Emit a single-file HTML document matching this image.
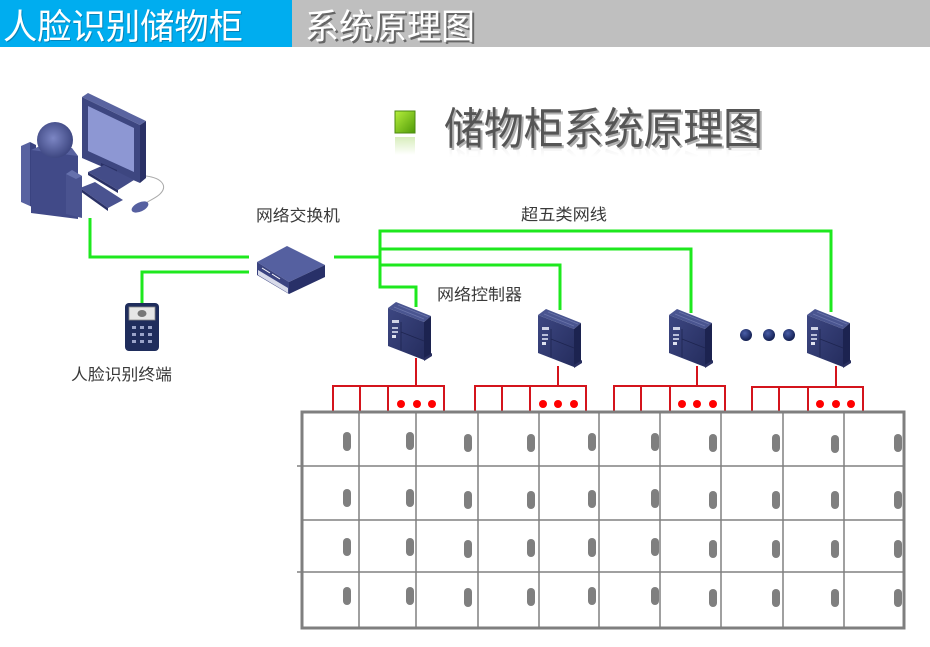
<!DOCTYPE html>
<html><head><meta charset="utf-8"><style>
html,body{margin:0;padding:0;background:#fff;}
svg{display:block;}
text{font-family:"Liberation Sans","Noto Sans CJK SC",sans-serif;}
</style></head><body>
<svg width="930" height="647" viewBox="0 0 930 647" xmlns="http://www.w3.org/2000/svg">
<defs>
<linearGradient id="refl" x1="0" y1="0" x2="0" y2="1">
<stop offset="0" stop-color="#999" stop-opacity="0"/>
<stop offset="0.65" stop-color="#999" stop-opacity="0"/>
<stop offset="1" stop-color="#999" stop-opacity="0.22"/>
</linearGradient>
<linearGradient id="gsq" x1="0" y1="0" x2="1" y2="1">
<stop offset="0" stop-color="#b6ef3c"/><stop offset="1" stop-color="#4f9a08"/>
</linearGradient>
<linearGradient id="gsqr" x1="0" y1="0" x2="0" y2="1">
<stop offset="0" stop-color="#7cc520" stop-opacity="0.3"/><stop offset="1" stop-color="#7cc520" stop-opacity="0"/>
</linearGradient>
<radialGradient id="head" cx="0.45" cy="0.45" r="0.6">
<stop offset="0" stop-color="#7c86c4"/><stop offset="1" stop-color="#39427c"/>
</radialGradient>
<radialGradient id="ball" cx="0.4" cy="0.35" r="0.7">
<stop offset="0" stop-color="#4a5ea8"/><stop offset="1" stop-color="#0e1a4a"/>
</radialGradient>
<linearGradient id="ctrlf" x1="0" y1="0" x2="1" y2="1">
<stop offset="0" stop-color="#3d4782"/><stop offset="1" stop-color="#252d5e"/>
</linearGradient>
<g id="ctrl">
<polygon points="0,8 8,2 43,16 36,22" fill="#4a5590"/>
<polygon points="0,8 36,22 36,60 0,46" fill="url(#ctrlf)"/>
<polygon points="36,22 43,16 43,54 36,60" fill="#1c2350"/>
<line x1="10" y1="5" x2="40" y2="17" stroke="#6a74aa" stroke-width="0.8"/>
<line x1="6" y1="7" x2="36" y2="19" stroke="#6a74aa" stroke-width="0.8"/>
<rect x="4" y="20" width="7" height="3" fill="#cfd3e6"/>
<rect x="4" y="27" width="6" height="2" fill="#b9bfd9"/>
<rect x="4" y="31" width="6" height="2" fill="#b9bfd9"/>
<rect x="4" y="35" width="4" height="3" fill="#dfe2ef"/>
<line x1="13" y1="22" x2="13" y2="50" stroke="#1e2550" stroke-width="0.8"/>
<line x1="13" y1="32" x2="36" y2="41" stroke="#1e2550" stroke-width="0.8"/>
<polygon points="36,58 44,53 44,56 36,61" fill="#2a3060"/>
</g>
</defs>

<!-- header -->
<rect x="0" y="0" width="292" height="47" fill="#00adef"/>
<rect x="292" y="0" width="638" height="47" fill="#bfbfbf"/>
<text x="4" y="40" font-size="35" fill="#0a6a96" textLength="240" lengthAdjust="spacingAndGlyphs" opacity="0.6">人脸识别储物柜</text>
<text x="3" y="39" font-size="35" fill="#ffffff" textLength="240" lengthAdjust="spacingAndGlyphs">人脸识别储物柜</text>
<text x="307" y="41" font-size="35" fill="#666" textLength="170" lengthAdjust="spacingAndGlyphs">系统原理图</text>
<text x="305" y="39" font-size="35" fill="#ffffff" textLength="170" lengthAdjust="spacingAndGlyphs">系统原理图</text>

<!-- title -->
<rect x="395" y="111" width="20" height="22" fill="url(#gsq)" stroke="#4c8a10" stroke-width="1"/>
<rect x="395" y="137" width="20" height="18" fill="url(#gsqr)"/>
<text x="446" y="146" font-size="44" fill="#b0b0b0" textLength="319" lengthAdjust="spacingAndGlyphs">储物柜系统原理图</text>
<text x="444" y="144" font-size="44" fill="#555555" textLength="319" lengthAdjust="spacingAndGlyphs">储物柜系统原理图</text>
<g transform="translate(0,294) scale(1,-1)">
<text x="444" y="144" font-size="44" fill="url(#refl)" textLength="319" lengthAdjust="spacingAndGlyphs">储物柜系统原理图</text>
</g>

<!-- green network lines -->
<g fill="none" stroke="#1ee81e" stroke-width="3">
<polyline points="90,218 90,257 249,257"/>
<polyline points="142,303 142,272 249,272"/>
<line x1="334" y1="257" x2="380" y2="257"/>
<polyline points="831,312 831,231 380,231 380,287 416,287 416,307"/>
<polyline points="380,249 691,249 691,313"/>
<polyline points="380,265 560,265 560,310"/>
</g>

<!-- PC -->
<g>
<polygon points="82,97 88,93 146,121 140,125" fill="#5a64a0"/>
<polygon points="82,97 140,125 140,183 82,158" fill="#3d4680"/>
<polygon points="88,106 134,128 134,172 88,151" fill="#8d97d3"/>
<polygon points="140,125 146,121 146,178 140,183" fill="#2a3166"/>
<polygon points="101,163 117,170 117,182 101,176" fill="#2a3166"/>
<polygon points="88,172 104,165 134,180 118,190" fill="#434c88"/>
<polygon points="88,172 118,190 118,193 88,175" fill="#2a3166"/>
<path d="M146,176 C162,178 168,186 160,194 C156,198 150,200 146,203" fill="none" stroke="#aaa" stroke-width="1"/>
<ellipse cx="140" cy="207" rx="9" ry="4.5" transform="rotate(-25 140 207)" fill="#5660a0"/>
<polygon points="80,188 95,182 123,200 108,208" fill="#4a5390"/>
<polygon points="80,188 108,208 108,211 80,191" fill="#2a3166"/>
<polygon points="21,146 30,142 30,206 21,202" fill="#5862a0"/>
<polygon points="30,142 36,145 36,209 30,206" fill="#3a4380"/>
<polygon points="31,150 68,150 78,156 78,219 31,213" fill="#414a88"/>
<polygon points="31,150 40,146 72,148 78,156" fill="#5862a0"/>
<polygon points="66,174 72,170 82,176 82,218 66,214" fill="#4a5390"/>
<polygon points="72,170 82,176 76,179 66,174" fill="#6570ac"/>
<circle cx="55" cy="140" r="18" fill="url(#head)"/>
</g>

<!-- face terminal -->
<g>
<rect x="125" y="303" width="34" height="48" rx="4" fill="#1f2d5c"/>
<rect x="129" y="307" width="26" height="13" fill="#e6e6e6" stroke="#8a8a8a" stroke-width="0.8"/>
<ellipse cx="142" cy="313.5" rx="4.5" ry="3.5" fill="#777"/>
<g fill="#9aa4c8">
<rect x="132" y="326" width="4" height="3"/><rect x="140" y="326" width="4" height="3"/><rect x="148" y="326" width="4" height="3"/>
<rect x="132" y="333" width="4" height="3"/><rect x="140" y="333" width="4" height="3"/><rect x="148" y="333" width="4" height="3"/>
<rect x="132" y="340" width="4" height="3"/><rect x="140" y="340" width="4" height="3"/><rect x="148" y="340" width="4" height="3"/>
</g>
</g>

<!-- switch -->
<g>
<polygon points="257,262 287,246 325,265 289,282" fill="#5560a0"/>
<polygon points="257,262 289,282 289,294 257,275" fill="#3a4380"/>
<polygon points="258,270 288,288 288,293 258,275" fill="#d8dbea"/>
<polygon points="289,282 325,265 325,277 289,294" fill="#283068"/>
<line x1="262" y1="268" x2="270" y2="273" stroke="#fff" stroke-width="1"/>
<line x1="272" y1="274" x2="280" y2="279" stroke="#fff" stroke-width="1"/>
</g>

<!-- controllers -->
<use href="#ctrl" x="388" y="300"/>
<use href="#ctrl" x="538" y="307"/>
<use href="#ctrl" x="669" y="307"/>
<use href="#ctrl" x="807" y="307"/>

<!-- navy dots -->
<circle cx="746" cy="335" r="6" fill="url(#ball)"/>
<circle cx="769" cy="335" r="6" fill="url(#ball)"/>
<circle cx="789" cy="335" r="6" fill="url(#ball)"/>

<!-- labels -->
<g font-size="16" fill="#3a3a3a">
<text x="256" y="221" textLength="84" lengthAdjust="spacingAndGlyphs">网络交换机</text>
<text x="521" y="220" textLength="86" lengthAdjust="spacingAndGlyphs">超五类网线</text>
<text x="437" y="300" textLength="85" lengthAdjust="spacingAndGlyphs">网络控制器</text>
<text x="71" y="380" textLength="101" lengthAdjust="spacingAndGlyphs">人脸识别终端</text>
</g>

<!-- red wiring -->
<g fill="none" stroke="#d4141c" stroke-width="2">
<line x1="416" y1="358" x2="416" y2="386"/>
<polyline points="333,411 333,386 444,386 444,411"/>
<line x1="360" y1="386" x2="360" y2="411"/>
<line x1="388" y1="386" x2="388" y2="411"/>
<line x1="558" y1="366" x2="558" y2="386"/>
<polyline points="475,411 475,386 586,386 586,411"/>
<line x1="502" y1="386" x2="502" y2="411"/>
<line x1="530" y1="386" x2="530" y2="411"/>
<line x1="697" y1="366" x2="697" y2="386"/>
<polyline points="614,411 614,386 725,386 725,411"/>
<line x1="641" y1="386" x2="641" y2="411"/>
<line x1="670" y1="386" x2="670" y2="411"/>
<line x1="836" y1="366" x2="836" y2="387"/>
<polyline points="752,411 752,387 863,387 863,411"/>
<line x1="779" y1="387" x2="779" y2="411"/>
<line x1="808" y1="387" x2="808" y2="411"/>
</g>
<g fill="#ff0000">
<circle cx="401" cy="404" r="4"/><circle cx="417" cy="404" r="4"/><circle cx="432" cy="404" r="4"/>
<circle cx="543" cy="404" r="4"/><circle cx="558" cy="404" r="4"/><circle cx="574" cy="404" r="4"/>
<circle cx="682" cy="404" r="4"/><circle cx="697" cy="404" r="4"/><circle cx="713" cy="404" r="4"/>
<circle cx="820" cy="404" r="4"/><circle cx="836" cy="404" r="4"/><circle cx="851" cy="404" r="4"/>
</g>

<!-- cabinet -->
<g stroke="#808080" stroke-width="1.5">
<line x1="359" y1="412" x2="359" y2="628"/>
<line x1="416" y1="412" x2="416" y2="628"/>
<line x1="478" y1="412" x2="478" y2="628"/>
<line x1="539" y1="412" x2="539" y2="628"/>
<line x1="599" y1="412" x2="599" y2="628"/>
<line x1="660" y1="412" x2="660" y2="628"/>
<line x1="721" y1="412" x2="721" y2="628"/>
<line x1="783" y1="412" x2="783" y2="628"/>
<line x1="844" y1="412" x2="844" y2="628"/>
<line x1="297" y1="466" x2="904" y2="466"/>
<line x1="301" y1="520" x2="904" y2="520"/>
<line x1="297" y1="572" x2="904" y2="572"/>
</g>
<rect x="302" y="412" width="602" height="216" fill="none" stroke="#7f7f7f" stroke-width="3"/>

<g fill="#7f7f7f">
<rect x="343" y="432" width="8" height="19" rx="4"/><rect x="343" y="489" width="8" height="18" rx="4"/><rect x="343" y="538" width="8" height="18" rx="4"/><rect x="343" y="587" width="8" height="18" rx="4"/>
<rect x="406" y="432" width="8" height="18" rx="4"/><rect x="406" y="489" width="8" height="18" rx="4"/><rect x="406" y="538" width="8" height="18" rx="4"/><rect x="406" y="587" width="8" height="18" rx="4"/>
<rect x="464" y="434" width="8" height="18" rx="4"/><rect x="464" y="491" width="8" height="18" rx="4"/><rect x="464" y="540" width="8" height="18" rx="4"/><rect x="464" y="588" width="8" height="19" rx="4"/>
<rect x="527" y="434" width="8" height="18" rx="4"/><rect x="527" y="491" width="8" height="18" rx="4"/><rect x="527" y="539" width="8" height="18" rx="4"/><rect x="527" y="588" width="8" height="18" rx="4"/>
<rect x="588" y="433" width="8" height="18" rx="4"/><rect x="588" y="490" width="8" height="18" rx="4"/><rect x="588" y="538" width="8" height="19" rx="4"/><rect x="588" y="587" width="8" height="18" rx="4"/>
<rect x="651" y="433" width="8" height="18" rx="4"/><rect x="651" y="489" width="8" height="19" rx="4"/><rect x="651" y="538" width="8" height="18" rx="4"/><rect x="651" y="587" width="8" height="18" rx="4"/>
<rect x="709" y="434" width="8" height="18" rx="4"/><rect x="709" y="491" width="8" height="18" rx="4"/><rect x="709" y="540" width="8" height="18" rx="4"/><rect x="709" y="589" width="8" height="18" rx="4"/>
<rect x="772" y="434" width="8" height="18" rx="4"/><rect x="772" y="491" width="8" height="18" rx="4"/><rect x="772" y="540" width="8" height="18" rx="4"/><rect x="772" y="589" width="8" height="18" rx="4"/>
<rect x="831" y="435" width="8" height="18" rx="4"/><rect x="831" y="491" width="8" height="18" rx="4"/><rect x="831" y="540" width="8" height="18" rx="4"/><rect x="831" y="589" width="8" height="18" rx="4"/>
<rect x="894" y="434" width="8" height="18" rx="4"/><rect x="894" y="491" width="8" height="18" rx="4"/><rect x="894" y="540" width="8" height="18" rx="4"/><rect x="894" y="589" width="8" height="18" rx="4"/>
</g>
</svg>
</body></html>
